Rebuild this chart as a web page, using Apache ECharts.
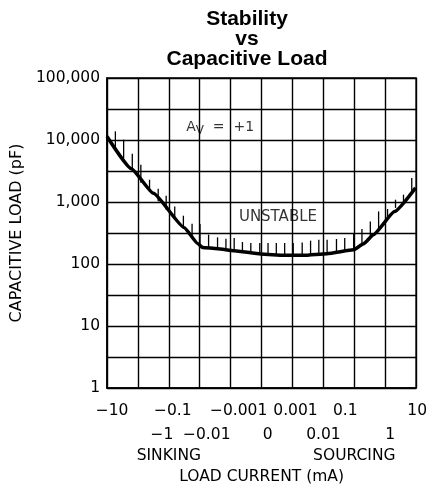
<!DOCTYPE html>
<html><head><meta charset="utf-8">
<script src="https://cdn.jsdelivr.net/npm/echarts@6/dist/echarts.min.js"></script>
<style>html,body{margin:0;padding:0;background:#fff}#c{width:430px;height:504px}</style>
</head><body><div id="c"></div>
<script>
// ---- data ----
// X axis: one step per labelled tick of the load-current scale
const xTickLabels = ['\u221210','\u22121','\u22120.1','\u22120.01','\u22120.001','0','0.001','0.01','0.1','1','10'];
const yTickLabels = ['1','10','100','1,000','10,000','100,000'];
const regionLabels = {2: 'SINKING', 8: 'SOURCING'};

// stability boundary: axis position, capacitive load (pF)
const curvePos = [0, 0.786, 1.5, 2.5, 2.93, 3.093, 3.576, 4.114, 4.974, 5.725, 6.369, 7.120, 7.980, 8.30, 8.62, 9.30, 9.98];
const curvePF  = [11400, 3450, 1380, 385, 215, 185, 177, 164, 145, 138, 138, 147, 170, 212, 297, 700, 1690];

// hatch marks on the unstable side: axis position, foot (pF), tip (pF)
const hatchPos    = [0.271,0.538,0.818,1.095,1.376,1.656,1.914,2.191,2.471,2.752,3.009,3.286,3.576,3.847,4.114,4.381,4.652,4.942,5.209,5.477,5.747,6.024,6.314,6.585,6.852,7.120,7.423,7.690,7.980,8.247,8.518,8.786,9.075,9.333,9.591,9.858];
const hatchBasePF = [7620,5130,3330,2040,1450,1030,751,532,374,260,195,182,177,170,164,158,152,146,143,140,138,138,138,140,143,147,154,162,170,205,266,379,575,803,1000,1490];
const hatchTopPF  = [13800,10100,6010,4000,2290,1640,1265,849,601,447,442,297,269,256,263,226,218,218,218,218,218,218,223,238,247,247,253,263,316,367,486,705,771,1089,1312,2438];

// ---- layout / style ----
const FONT = 'DejaVu Sans';
const labelShift = [5,24,4,7,8,6,3,0,-9,5,1];   // px nudges of x tick labels
const avAnchor = [2.56, 4.21];
const unstableAnchor = [5.53, 2.755];

const lg = v => Math.log10(v);
const rich = {};
labelShift.forEach((d, i) => {
  rich['r' + i] = {fontFamily: FONT, fontSize: 15.5, color: '#000', lineHeight: 20,
    padding: d >= 0 ? [0, 0, 0, 2 * d] : [0, -2 * d, 0, 0]};
});
// row = 0: labels on the first line (even ticks), row = 1: second line (odd ticks)
const tickFormatter = row => v => {
  const i = Math.round(v);
  return (i % 2 === row) ? '{r' + i + '|' + xTickLabels[i] + '}' : '';
};
const plainAxis = {type: 'value', min: 0, max: 10, position: 'bottom',
  axisLine: {show: false}, axisTick: {show: false}, splitLine: {show: false}};

const chart = echarts.init(document.getElementById('c'), null, {renderer: 'canvas'});
chart.setOption({
  animation: false,
  backgroundColor: '#fff',
  title: {
    text: 'Stability\nvs\nCapacitive Load',
    left: 247, top: 9, padding: 0, textAlign: 'center',
    textStyle: {fontFamily: 'Liberation Sans', fontWeight: 'bold', fontSize: 21, lineHeight: 20, color: '#000'}
  },
  grid: {left: 107, right: 12, top: 78, bottom: 116, show: true, borderColor: '#000', borderWidth: 1.5},
  xAxis: [{
    type: 'value', min: 0, max: 10, interval: 1,
    axisLine: {show: true, lineStyle: {color: '#000', width: 1.5}},
    axisTick: {show: false},
    splitLine: {show: true, lineStyle: {color: '#000', width: 1.4}},
    axisLabel: {margin: 13, fontFamily: FONT, fontSize: 15.5, color: '#000',
      formatter: tickFormatter(0), rich: rich},
    name: 'LOAD CURRENT (mA)', nameLocation: 'middle', nameGap: 81,
    nameTextStyle: {fontFamily: FONT, fontSize: 15.5, color: '#000'}
  }, Object.assign({}, plainAxis, {
    interval: 1, offset: 25,
    axisLabel: {margin: 12, fontFamily: FONT, fontSize: 15.5, color: '#000',
      formatter: tickFormatter(1), rich: rich}
  }), Object.assign({}, plainAxis, {
    interval: 2, offset: 52,
    axisLabel: {margin: 8, fontFamily: FONT, fontSize: 15.5, color: '#000',
      formatter: v => regionLabels[Math.round(v)] || ''}
  })],
  yAxis: {
    type: 'value', min: 0, max: 5, interval: 0.5,
    axisLine: {show: true, lineStyle: {color: '#000', width: 1.5}},
    axisTick: {show: false},
    splitLine: {show: true, lineStyle: {color: '#000', width: 1.4}},
    axisLabel: {margin: 7, fontFamily: FONT, fontSize: 15.5, color: '#000',
      formatter: v => Number.isInteger(v) ? yTickLabels[v] : ''},
    name: 'CAPACITIVE LOAD (pF)', nameLocation: 'middle', nameGap: 74,
    nameTextStyle: {fontFamily: FONT, fontSize: 16, color: '#000'}
  },
  series: [{
    type: 'custom',
    data: hatchPos.map((x, i) => [x, lg(hatchBasePF[i]), lg(hatchTopPF[i])]),
    renderItem: (params, api) => {
      const a = api.coord([api.value(0), api.value(1)]);
      const b = api.coord([api.value(0), api.value(2)]);
      return {type: 'line', shape: {x1: a[0], y1: a[1], x2: b[0], y2: b[1]},
        style: {stroke: '#000', lineWidth: 1.3}};
    },
    silent: true, z: 2
  }, {
    type: 'line',
    data: curvePos.map((x, i) => [x, lg(curvePF[i])]),
    showSymbol: false, smooth: 0.15, smoothMonotone: 'x',
    lineStyle: {color: '#000', width: 3.5}, z: 3
  }, {
    type: 'scatter', symbolSize: 0, silent: true,
    data: [
      {value: avAnchor, label: {show: true, position: 'right', distance: 0,
        formatter: '{a|A}{s|V}{a|  =  +1}',
        rich: {a: {fontFamily: FONT, fontSize: 14, color: '#000'},
               s: {fontFamily: FONT, fontSize: 12, color: '#000', padding: [8, 0, 0, 0]}}}},
      {value: unstableAnchor, label: {show: true, position: 'inside',
        formatter: 'UNSTABLE', fontFamily: FONT, fontSize: 15, color: '#000'}}
    ]
  }]
});
</script></body></html>
